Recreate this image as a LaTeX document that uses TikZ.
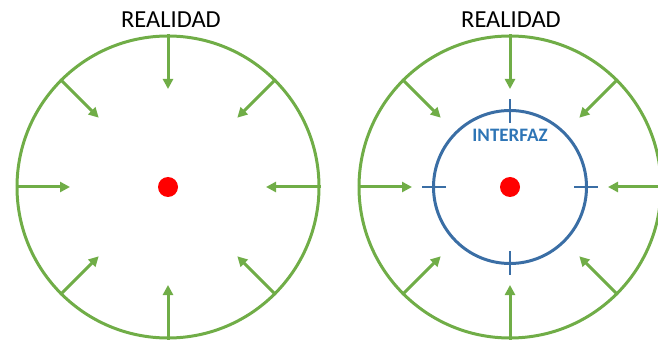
\documentclass[tikz,border=0pt]{standalone}
\usepackage{fontspec}
\setmainfont{Carlito}
\usetikzlibrary{arrows.meta,calc}
\definecolor{leafgreen}{HTML}{70AD47}
\definecolor{ringblue}{HTML}{3A6EA5}
\definecolor{labelblue}{HTML}{2E75B6}
\begin{document}
\begin{tikzpicture}[x=1pt,y=1pt,
  ring/.style={circle,draw=leafgreen,line width=3pt,minimum size=302pt,inner sep=0pt},
  inner ring/.style={circle,draw=ringblue,line width=3pt,minimum size=153pt,inner sep=0pt},
  dot/.style={circle,fill=red,minimum size=20pt,inner sep=0pt},
  push/.style={draw=leafgreen,line width=3pt,-{Triangle[length=10pt,width=10pt]}},
  tick/.style={draw=ringblue,line width=2.6pt},
  title/.style={font=\fontsize{24.5}{26}\selectfont,text=black},
  label/.style={font=\fontsize{19}{21}\selectfont\bfseries,text=labelblue}]
\useasboundingbox (0,0) rectangle (658,340);
\clip (0,0) rectangle (658,340);

% left: reality pressing in on the centre
\node[ring] (LC) at (168,153) {};
\node[dot] (LD) at (168,153) {};
\node[title] (LT) at (171,320) {REALIDAD};
\foreach \a in {0,45,...,315}
  \draw[push] (LC.\a) -- ($(LD.center)+(\a:98)$);

% right: the same, with an interface around the centre
\node[ring] (RC) at (510,153) {};
\node[dot] (RD) at (510,153) {};
\node[inner ring] (IC) at (510,153) {};
\node[title] (RT) at (511,320) {REALIDAD};
\node[label] (IL) at (510,205) {INTERFAZ};
\foreach \a in {0,45,...,315}
  \draw[push] (RC.\a) -- ($(RD.center)+(\a:98)$);
\foreach \a in {0,90,180,270}
  \draw[tick] ($(IC.center)+(\a:64)$) -- ($(IC.center)+(\a:88)$);
\end{tikzpicture}
\end{document}
